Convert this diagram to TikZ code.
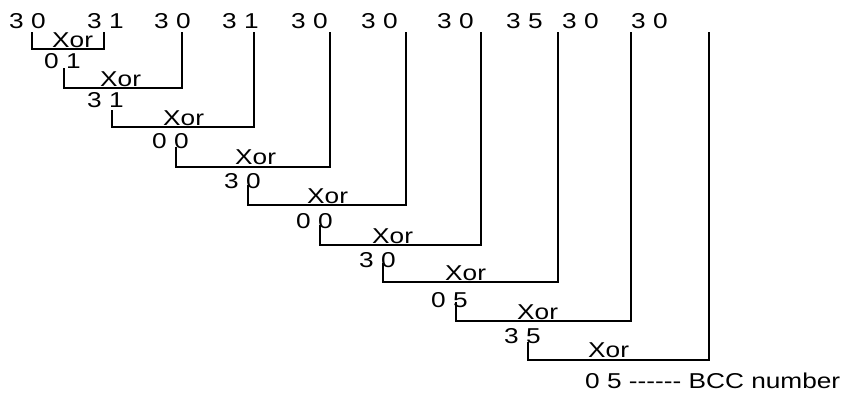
\documentclass[tikz,border=0pt]{standalone}
\usepackage{fontspec}
\setmainfont{Liberation Sans}[FakeStretch=1.22, Ligatures=TeXOff]
\begin{document}
\begin{tikzpicture}[x=1pt,y=-1pt,
  txt/.style={anchor=base west, inner sep=0pt, font=\fontsize{21.5}{25}\selectfont},
  wire/.style={line width=1.3pt, black}]
\useasboundingbox (0,0) rectangle (842,392);
% top row
\node[txt] (t1) at (9,28) {3 0};
\node[txt] (t2) at (87,28) {3 1};
\node[txt] (t3) at (154,28) {3 0};
\node[txt] (t4) at (222,28) {3 1};
\node[txt] (t5) at (291,28) {3 0};
\node[txt] (t6) at (361,28) {3 0};
\node[txt] (t7) at (437,28) {3 0};
\node[txt] (t8) at (506,28) {3 5};
\node[txt] (t9) at (562,28) {3 0};
\node[txt] (t10) at (631,28) {3 0};
% Xor labels
\node[txt] (x1) at (52,47) {Xor};
\node[txt] (x2) at (100,86) {Xor};
\node[txt] (x3) at (163,125) {Xor};
\node[txt] (x4) at (235,164) {Xor};
\node[txt] (x5) at (307,203) {Xor};
\node[txt] (x6) at (372,243) {Xor};
\node[txt] (x7) at (445,280) {Xor};
\node[txt] (x8) at (517,319) {Xor};
\node[txt] (x9) at (588,357) {Xor};
% results
\node[txt] (r1) at (44,68) {0 1};
\node[txt] (r2) at (87,107) {3 1};
\node[txt] (r3) at (152,148) {0 0};
\node[txt] (r4) at (224,188) {3 0};
\node[txt] (r5) at (296,228) {0 0};
\node[txt] (r6) at (359,267) {3 0};
\node[txt] (r7) at (431,307) {0 5};
\node[txt] (r8) at (504,343) {3 5};
\node[txt] (r9) at (585,388) {0 5 -{}-{}-{}-{}-{}- BCC number};
% line ends
\coordinate (a1) at (32,32);   \coordinate (b1) at (104,32); \coordinate (h1) at (0,49);
\coordinate (a2) at (64,68);   \coordinate (b2) at (182,32); \coordinate (h2) at (0,88);
\coordinate (a3) at (112,110); \coordinate (b3) at (254,32); \coordinate (h3) at (0,127);
\coordinate (a4) at (176,147); \coordinate (b4) at (330,32); \coordinate (h4) at (0,167);
\coordinate (a5) at (248,185); \coordinate (b5) at (406,32); \coordinate (h5) at (0,205);
\coordinate (a6) at (320,225); \coordinate (b6) at (481,32); \coordinate (h6) at (0,245);
\coordinate (a7) at (383,263); \coordinate (b7) at (558,32); \coordinate (h7) at (0,282);
\coordinate (a8) at (456,302); \coordinate (b8) at (631,32); \coordinate (h8) at (0,321);
\coordinate (a9) at (528,342); \coordinate (b9) at (709,32); \coordinate (h9) at (0,360);
\foreach \k in {1,...,9}{
  \draw[wire] (a\k) -- (a\k |- h\k) -| (b\k);
}
\end{tikzpicture}
\end{document}
